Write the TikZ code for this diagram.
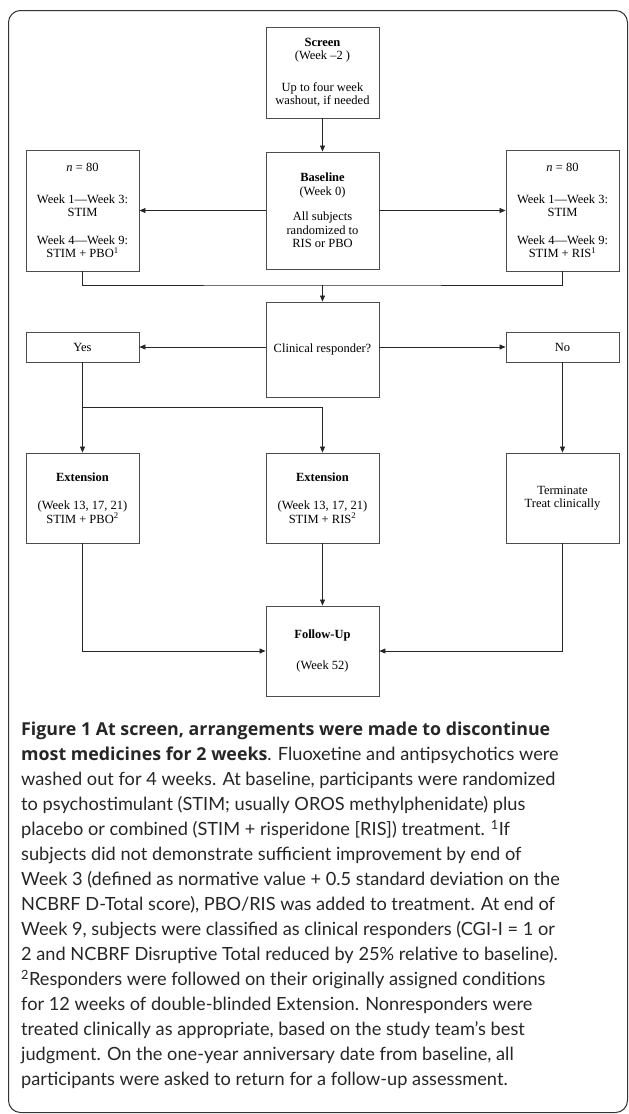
\documentclass[tikz,border=0pt]{standalone}
\usepackage{fontspec}
\setmainfont{Liberation Serif}
\newfontfamily\capfont{Lato}
\newfontfamily\capbold{Open Sans}
\usetikzlibrary{arrows.meta}
\newcommand{\capb}[1]{{\capbold\bfseries\fontsize{17.8}{25}\selectfont #1}}
\begin{document}
\begin{tikzpicture}[x=1pt,y=-1pt,
  box/.style={draw=black!70, line width=0.9pt, minimum width=113pt, align=center, inner sep=0pt,
    font=\fontsize{12.5}{13.5}\selectfont},
  arr/.style={draw=black!85, line width=0.7pt, -{Triangle[length=6pt,width=5pt]}},
  ln/.style={draw=black!85, line width=0.7pt}]
\useasboundingbox (0,0) rectangle (629,1114);
\draw[black!80, line width=1pt, rounded corners=12pt] (8.5,10.5) rectangle (627.5,1112.5);

\node[box, minimum height=91pt] (screen) at (322.5,72.5)
  {\textbf{Screen}\\(Week –2 )\\[18pt]Up to four week\\washout, if needed};
\node[box, minimum height=117pt] (base) at (322.5,210.5)
  {\textbf{Baseline}\\(Week 0)\\[12pt]All subjects\\randomized to\\RIS or PBO};
\node[box, minimum height=121pt] (left) at (82.5,210.5)
  {\textit{n} = 80\\[18pt]Week 1—Week 3:\\STIM\\[14pt]Week 4—Week 9:\\STIM + PBO\textsuperscript{1}};
\node[box, minimum height=121pt] (right) at (562.5,210.5)
  {\textit{n} = 80\\[18pt]Week 1—Week 3:\\STIM\\[14pt]Week 4—Week 9:\\STIM + RIS\textsuperscript{1}};
\node[box, minimum height=95pt] (clin) at (322.5,349.5) {Clinical responder?};
\node[box, minimum height=30pt] (yes) at (82.5,347) {Yes};
\node[box, minimum height=30pt] (no) at (562.5,347) {No};
\node[box, minimum height=90pt] (ext1) at (82.5,498)
  {\textbf{Extension}\\[15pt](Week 13, 17, 21)\\STIM + PBO\textsuperscript{2}};
\node[box, minimum height=90pt] (ext2) at (322.5,498)
  {\textbf{Extension}\\[15pt](Week 13, 17, 21)\\STIM + RIS\textsuperscript{2}};
\node[box, minimum height=90pt] (term) at (562.5,498) {Terminate\\Treat clinically};
\node[box, minimum height=90pt] (follow) at (322.5,651)
  {\textbf{Follow-Up}\\[17pt](Week 52)};

\coordinate (merge) at (322.5,285);
\coordinate (branch) at (82.5,407);

\draw[arr] (screen) -- (base);
\draw[arr] (base) -- (left);
\draw[arr] (base) -- (right);
\draw[ln] (left.south) |- (merge) -| (right.south);
\draw[arr] (merge) -- (clin.north);
\draw[arr] (yes -| clin.west) -- (yes.east);
\draw[arr] (no -| clin.east) -- (no.west);
\draw[arr] (yes) -- (ext1);
\draw[arr] (branch) -| (ext2.north);
\draw[arr] (no) -- (term);
\draw[arr] (ext2) -- (follow);
\draw[arr] (ext1.south) |- (follow.west);
\draw[arr] (term.south) |- (follow.east);

\node[anchor=north west, inner sep=0pt, align=left, text=black!85,
  font=\capfont\fontsize{18.2}{25}\selectfont] (caption) at (21,722)
 {\capb{Figure 1 At screen, arrangements were made to discontinue}\\
  \capb{most medicines for 2 weeks}. Fluoxetine and antipsychotics were\\
  washed out for 4 weeks. At baseline, participants were randomized\\
  to psychostimulant (STIM; usually OROS methylphenidate) plus\\
  placebo or combined (STIM + risperidone [RIS]) treatment. \textsuperscript{1}If\\
  subjects did not demonstrate sufficient improvement by end of\\
  Week 3 (defined as normative value + 0.5 standard deviation on the\\
  NCBRF D-Total score), PBO/RIS was added to treatment. At end of\\
  Week 9, subjects were classified as clinical responders (CGI-I = 1 or\\
  2 and NCBRF Disruptive Total reduced by 25\% relative to baseline).\\
  \textsuperscript{2}Responders were followed on their originally assigned conditions\\
  for 12 weeks of double-blinded Extension. Nonresponders were\\
  treated clinically as appropriate, based on the study team’s best\\
  judgment. On the one-year anniversary date from baseline, all\\
  participants were asked to return for a follow-up assessment.};
\end{tikzpicture}
\end{document}
